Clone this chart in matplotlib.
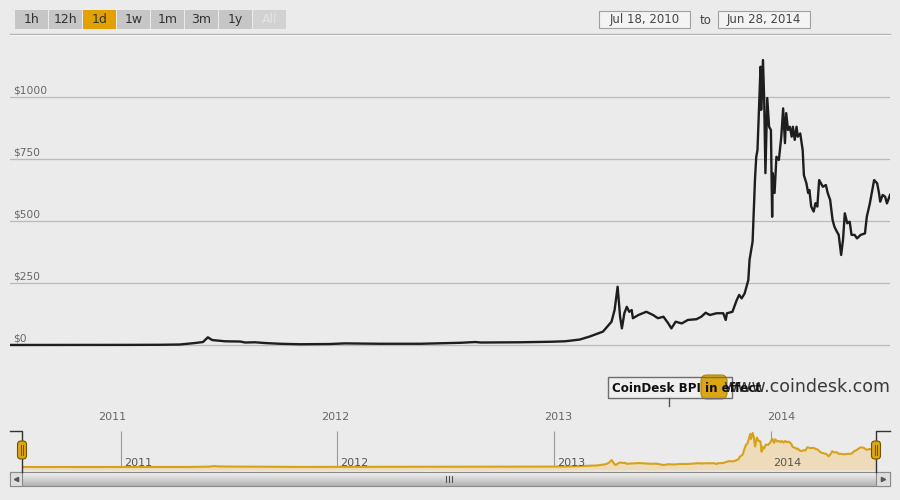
import matplotlib
matplotlib.use("Agg")
import matplotlib.pyplot as plt
import matplotlib.transforms as mtransforms
from matplotlib.patches import FancyBboxPatch, Rectangle
import numpy as np
import pandas as pd

# CoinDesk BPI, daily close
date_strs = [
    '2010-07-18', '2010-12-12',
    '2011-01-30', '2011-03-21', '2011-04-22', '2011-05-17', '2011-05-30', '2011-06-07', '2011-06-14',
    '2011-07-05', '2011-07-30', '2011-08-07', '2011-08-23', '2011-09-08', '2011-10-03', '2011-11-05',
    '2011-12-24',
    '2012-01-17', '2012-03-15', '2012-05-20', '2012-07-25', '2012-08-18', '2012-08-27', '2012-10-31',
    '2012-12-18',
    '2013-01-12', '2013-02-05', '2013-02-21', '2013-03-15', '2013-03-29', '2013-04-03', '2013-04-08',
    '2013-04-12', '2013-04-15', '2013-04-19', '2013-04-23', '2013-04-27', '2013-05-01', '2013-05-03',
    '2013-05-12', '2013-05-25', '2013-06-05', '2013-06-13', '2013-06-22', '2013-06-30', '2013-07-05',
    '2013-07-12', '2013-07-22', '2013-08-01', '2013-08-15', '2013-08-23', '2013-08-30', '2013-09-06',
    '2013-09-17', '2013-09-28', '2013-10-02', '2013-10-04', '2013-10-13', '2013-10-20', '2013-10-24',
    '2013-10-28', '2013-11-02', '2013-11-08', '2013-11-10', '2013-11-15', '2013-11-17', '2013-11-19',
    '2013-11-21', '2013-11-23', '2013-11-28', '2013-11-29', '2013-12-02', '2013-12-04', '2013-12-06',
    '2013-12-09', '2013-12-12', '2013-12-15', '2013-12-17', '2013-12-18', '2013-12-21', '2013-12-24',
    '2013-12-28',
    '2014-01-01', '2014-01-04', '2014-01-07', '2014-01-09', '2014-01-12', '2014-01-15', '2014-01-18',
    '2014-01-20', '2014-01-23', '2014-01-26', '2014-01-28', '2014-02-01', '2014-02-05', '2014-02-07',
    '2014-02-11', '2014-02-14', '2014-02-16', '2014-02-19', '2014-02-23', '2014-02-26', '2014-03-01',
    '2014-03-04', '2014-03-10', '2014-03-15', '2014-03-18', '2014-03-22', '2014-03-26', '2014-03-29',
    '2014-04-02', '2014-04-05', '2014-04-09', '2014-04-12', '2014-04-15', '2014-04-19', '2014-04-23',
    '2014-04-26', '2014-05-01', '2014-05-05', '2014-05-11', '2014-05-18', '2014-05-21', '2014-05-26',
    '2014-05-30', '2014-06-02', '2014-06-07', '2014-06-10', '2014-06-12', '2014-06-16', '2014-06-20',
    '2014-06-23', '2014-06-28',
]
prices = [
    0.1, 0.2,
    0.5, 0.9, 2, 8, 12, 31, 20,
    15, 14, 10, 11, 8, 5, 3,
    4,
    6.5, 5, 5, 9, 12, 10, 11,
    13,
    15, 22, 34, 54, 94, 141, 235,
    114, 67, 128, 154, 134, 141, 108,
    121, 134, 121, 108, 114, 87, 67,
    94, 87, 101, 104, 114, 130, 121,
    128, 128, 101, 128, 134, 181, 202,
    188, 208, 262, 343, 417, 544, 673,
    759, 786, 1122, 948, 1149, 988, 693,
    996, 880, 867, 517, 693, 613, 759,
    746,
    840, 954, 814, 935, 867, 880, 840,
    880, 827, 880, 840, 853, 786, 685,
    653, 613, 625, 558, 538, 572, 558,
    665, 638, 645, 613, 585, 504, 477,
    457, 444, 363, 423, 531, 491, 497,
    444, 444, 430, 444, 450, 517, 571,
    625, 665, 652, 612, 578, 605, 598,
    571, 605,
]
y_ticks = [0, 250, 500, 750, 1000]
y_labels = ['$0', '$250', '$500', '$750', '$1000']
nav_years = [2011, 2012, 2013, 2014]
range_buttons = ['1h', '12h', '1d', '1w', '1m', '3m', '1y', 'All']
selected = '1d'
date_from = 'Jul 18, 2010'
date_to = 'Jun 28, 2014'

dates = pd.to_datetime(date_strs)
year_dates = [pd.Timestamp(f'{y}-01-01') for y in nav_years]

BG = '#ebebeb'
W, H = 900, 500


def rect(x0, y0, x1, y1):
    # pixel box (top-left origin) -> figure fraction
    return [x0 / W, 1 - y1 / H, (x1 - x0) / W, (y1 - y0) / H]


plt.rcParams['font.family'] = ['DejaVu Sans']
fig = plt.figure(figsize=(9, 5), dpi=100, facecolor=BG)

# main price chart
ax = fig.add_axes(rect(10, 40, 890, 355))
ax.set_facecolor('none')
ax.set_xlim(dates[0], dates[-1])
ax.set_ylim(-40.3, 1229.8)
for s in ax.spines.values():
    s.set_visible(False)
ax.set_xticks([])
ax.set_yticks([])
for v, lbl in zip(y_ticks, y_labels):
    ax.axhline(v, color='#bababa', lw=0.9, zorder=1)
    ax.annotate(lbl, xy=(0, v), xycoords=('axes fraction', 'data'), xytext=(2, 4.5),
                textcoords='offset points', ha='left', va='center', fontsize=7.7, color='#666666')
ax.plot(dates, prices, color='#1e1e1e', lw=1.7, zorder=3, solid_joinstyle='round')

trans = mtransforms.blended_transform_factory(ax.transData, fig.transFigure)
for yd, yr in zip(year_dates, nav_years):
    ax.text(yd, 1 - 417 / H, str(yr), transform=trans, ha='center', va='center',
            fontsize=8, color='#666666')

# navigator
axn = fig.add_axes(rect(22, 430, 876, 470))
axn.set_facecolor('none')
axn.set_xlim(dates[0], dates[-1])
axn.set_ylim(-101, 1250)
for s in axn.spines.values():
    s.set_visible(False)
axn.set_xticks([])
axn.set_yticks([])
axn.vlines(year_dates, 0.075, 0.975, transform=axn.get_xaxis_transform(),
           color='#9a9a9a', lw=0.8, zorder=1)
axn.fill_between(dates, prices, -101, color='#eedbb9', lw=0, zorder=2)
axn.plot(dates, prices, color='#d6a21c', lw=1.5, zorder=3)
for yd, yr in zip(year_dates, nav_years):
    axn.annotate(str(yr), xy=(yd, 0.175), xycoords=('data', 'axes fraction'), xytext=(2, 0),
                 textcoords='offset points', ha='left', va='center', fontsize=8,
                 color='#555555', zorder=4)

# widgets drawn in pixel space
ov = fig.add_axes([0, 0, 1, 1])
ov.patch.set_alpha(0)
ov.axis('off')

for i, b in enumerate(range_buttons):
    x0 = 15 + i * 34
    if b == selected:
        fc = '#e2a100'
    elif b == 'All':
        fc = '#d2d2d2'
    else:
        fc = '#c6c6c6'
    ov.add_patch(Rectangle((x0, 10), 33, 19, fc=fc, ec='none'))
    ov.text(x0 + 16.5, 19.5, b, ha='center', va='center', fontsize=9,
            color='#e4e4e4' if b == 'All' else '#333333')

ov.plot([10, 890], [33.5, 33.5], color='#b2b2b2', lw=1)
ov.plot([10, 890], [34.6, 34.6], color='#f7f7f7', lw=0.8)

ov.add_patch(Rectangle((599, 11), 91, 17, fc='#f3f3f3', ec='#a0a0a0', lw=0.8))
ov.text(644.5, 19.5, date_from, ha='center', va='center', fontsize=8.5, color='#444444')
ov.text(706, 20.5, 'to', ha='center', va='center', fontsize=8.5, color='#444444')
ov.add_patch(Rectangle((718, 11), 92, 17, fc='#f3f3f3', ec='#a0a0a0', lw=0.8))
ov.text(764, 19.5, date_to, ha='center', va='center', fontsize=8.5, color='#444444')

# BPI flag + watermark (they overlap in the original too)
ov.add_patch(Rectangle((608, 377), 124, 21, fc='#efefef', ec='none', zorder=2))
ov.add_patch(FancyBboxPatch((701, 375), 26, 24, boxstyle='round,pad=0,rounding_size=6',
                            fc='#dca515', ec='#b08600', lw=0.8, zorder=3))
ov.add_patch(Rectangle((608, 377), 124, 21, fc='none', ec='#6e6e6e', lw=1, zorder=4))
ov.plot([669, 669], [398, 406], color='#555555', lw=1, zorder=4)
ov.text(890, 387, 'www.coindesk.com', ha='right', va='center', fontsize=12.5,
        color='#3a3a3a', zorder=5)
ov.text(612, 388, 'CoinDesk BPI in effect', ha='left', va='center', fontsize=8.6,
        fontweight='bold', color='#111111', zorder=6)

# scrollbar
grad = np.linspace(0.95, 0.70, 30)[:, None]
ov.imshow(grad, extent=(22, 876, 486, 472), cmap='gray', vmin=0, vmax=1, aspect='auto', zorder=1)
ov.add_patch(Rectangle((10, 472), 880, 14, fc='none', ec='#8a8a8a', lw=0.8, zorder=2))
ov.add_patch(Rectangle((10, 472), 12, 14, fc='#dedede', ec='#8a8a8a', lw=0.8, zorder=2))
ov.add_patch(Rectangle((876, 472), 14, 14, fc='#dedede', ec='#8a8a8a', lw=0.8, zorder=2))
ov.plot([16], [479], marker='<', ms=3, color='#555555', zorder=3)
ov.plot([883], [479], marker='>', ms=3, color='#555555', zorder=3)
for gx in (446, 449, 452):
    ov.plot([gx, gx], [476, 482], color='#555555', lw=0.8, zorder=3)

# navigator handles
ov.plot([10, 22, 22], [431, 431, 472], color='#333333', lw=1, zorder=2)
ov.plot([890, 876, 876], [431, 431, 472], color='#333333', lw=1, zorder=2)
for hx in (22, 876):
    ov.add_patch(FancyBboxPatch((hx - 4.5, 441), 9, 18, boxstyle='round,pad=0,rounding_size=3.5',
                                fc='#dba614', ec='#6f5500', lw=0.8, zorder=4))
    for gx in (hx - 1.2, hx + 1.2):
        ov.plot([gx, gx], [445, 455], color='#6f5500', lw=0.7, zorder=5)

ov.set_xlim(0, W)
ov.set_ylim(H, 0)

fig.savefig('out.png', dpi=100, facecolor=BG)
